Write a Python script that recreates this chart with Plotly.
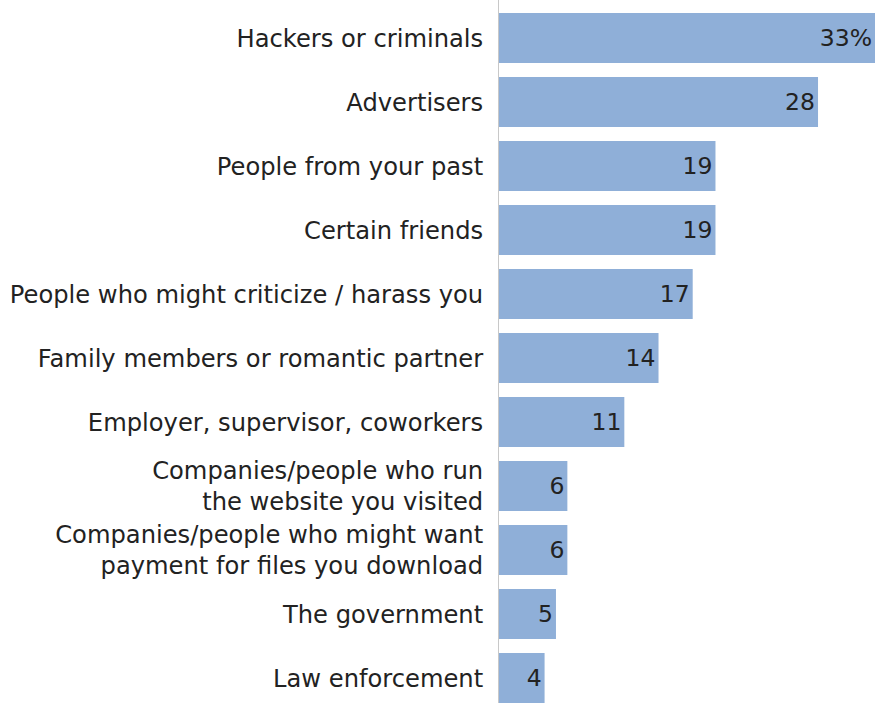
import plotly.graph_objects as go

categories = [
    "Hackers or criminals",
    "Advertisers",
    "People from your past",
    "Certain friends",
    "People who might criticize / harass you",
    "Family members or romantic partner",
    "Employer, supervisor, coworkers",
    "Companies/people who run<br>the website you visited",
    "Companies/people who might want<br>payment for files you download",
    "The government",
    "Law enforcement",
]
values = [33, 28, 19, 19, 17, 14, 11, 6, 6, 5, 4]
value_labels = ["33%", "28", "19", "19", "17", "14", "11", "6", "6", "5", "4"]

positions = list(range(len(categories)))

FONT = "DejaVu Sans"

fig = go.Figure(
    go.Bar(
        x=values,
        y=positions,
        orientation="h",
        marker=dict(color="rgb(143,175,216)", line=dict(width=0)),
        text=value_labels,
        textposition="inside",
        insidetextanchor="end",
        textfont=dict(family=FONT, size=23.5, color="#222222"),
        width=0.78,
        cliponaxis=False,
    )
)

fig.update_layout(
    width=876,
    height=703,
    margin=dict(l=499, r=1, t=0, b=0),
    paper_bgcolor="white",
    plot_bgcolor="white",
    showlegend=False,
    font=dict(family=FONT, size=23.5, color="#222222"),
    uniformtext=dict(minsize=22, mode="show"),
)
fig.update_xaxes(range=[0, 33], visible=False, showgrid=False, zeroline=False)
fig.update_yaxes(
    range=[10.39, -0.594],
    tickvals=positions,
    ticktext=categories,
    showgrid=False,
    zeroline=False,
    showline=True,
    linecolor="#c8c8c8",
    linewidth=1,
    ticks="outside",
    ticklen=10,
    tickcolor="rgba(0,0,0,0)",
    tickfont=dict(family=FONT, size=24.2, color="#222222"),
)

fig.write_html(
    "out.html",
    config={"displayModeBar": False},
    post_script="document.body.style.margin='0';document.body.style.overflow='hidden';",
)
